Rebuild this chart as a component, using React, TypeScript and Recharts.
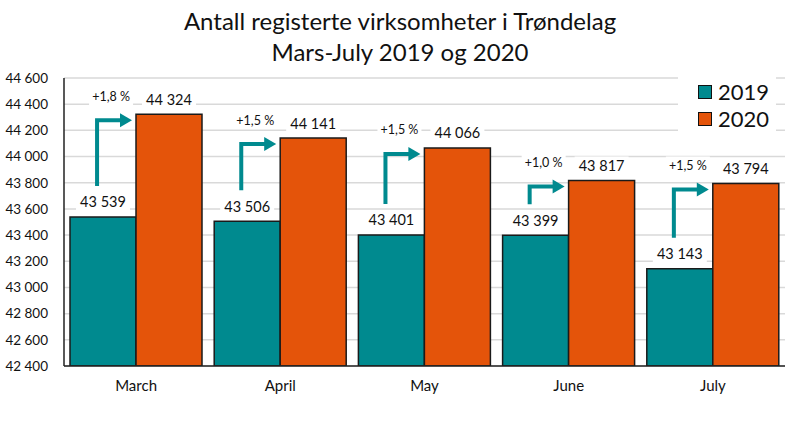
import React from 'react'
import { BarChart, Bar, XAxis, YAxis, CartesianGrid, LabelList } from 'recharts'

const months = ['March', 'April', 'May', 'June', 'July']
const values2019 = [43539, 43506, 43401, 43399, 43143]
const values2020 = [44324, 44141, 44066, 43817, 43794]
const changeLabels = ['+1,8 %', '+1,5 %', '+1,5 %', '+1,0 %', '+1,5 %']
const yTicks = [42400, 42600, 42800, 43000, 43200, 43400, 43600, 43800, 44000, 44200, 44400, 44600]

const Y_MIN = 42400
const Y_MAX = 44600
const TEAL = '#008A8F'
const ORANGE = '#E4540A'
const FONT = 'Lato, "Open Sans", sans-serif'

const data = months.map((m, i) => ({ month: m, y2019: values2019[i], y2020: values2020[i] }))

const fmt = (n: number) => String(n).replace(/\B(?=(\d{3})+(?!\d))/g, ' ')

function box(props: any) {
  const vb = props.viewBox || {}
  return {
    x: Number(props.x ?? vb.x),
    y: Number(props.y ?? vb.y),
    width: Number(props.width ?? vb.width),
    height: Number(props.height ?? vb.height),
  }
}

function ValueLabel(props: any) {
  const { x, y, width } = box(props)
  const cx = x + width / 2
  const cy = y - 15
  return (
    <g>
      <rect x={cx - 27} y={cy - 9} width={54} height={18} fill="#fff" />
      <text x={cx} y={cy} textAnchor="middle" dominantBaseline="central" fontSize={14.5} fill="#111" fontFamily={FONT}>
        {fmt(Number(props.value))}
      </text>
    </g>
  )
}

// arrow from the 2019 label up and across to the 2020 bar, with the change above it
function ChangeArrow(props: any) {
  const { x, y, width, height } = box(props)
  const i = props.index
  const k = height / (values2019[i] - Y_MIN)
  const top20 = y + height - (values2020[i] - Y_MIN) * k
  const vx = x + width * 0.41
  const y0 = y - 31
  const y1 = top20 + 6
  const tip = x + width - 4
  return (
    <g>
      <polyline points={`${vx},${y0} ${vx},${y1} ${tip - 11},${y1}`} fill="none" stroke={TEAL} strokeWidth={4} />
      <polygon points={`${tip},${y1} ${tip - 12},${y1 - 7} ${tip - 12},${y1 + 7}`} fill={TEAL} />
      <rect x={vx - 8} y={y1 - 33} width={44} height={18} fill="#fff" />
      <text x={vx + 14} y={y1 - 24} textAnchor="middle" dominantBaseline="central" fontSize={12.5} fill="#111" fontFamily={FONT}>
        {changeLabels[i]}
      </text>
    </g>
  )
}

function LegendBox() {
  const items = [
    { name: '2019', color: TEAL },
    { name: '2020', color: ORANGE },
  ]
  return (
    <div style={{ position: 'absolute', left: 678, top: 76, width: 98, background: '#fff', padding: '2px 0 6px 0', fontFamily: FONT }}>
      {items.map(it => (
        <div key={it.name} style={{ display: 'flex', alignItems: 'center', height: 27, paddingLeft: 20 }}>
          <span style={{ width: 12, height: 12, background: it.color, border: '1px solid #111', marginRight: 6 }} />
          <span style={{ fontSize: 22, color: '#111' }}>{it.name}</span>
        </div>
      ))}
    </div>
  )
}

export default function App() {
  return (
    <div style={{ position: 'absolute', left: 0, top: 0, width: 800, height: 430, background: '#fff' }}>
      <div
        style={{
          position: 'absolute', left: 0, top: 5, width: 800, textAlign: 'center',
          fontFamily: FONT, fontSize: 24, lineHeight: '31px', color: '#111',
        }}
      >
        Antall registerte virksomheter i Trøndelag
        <br />
        Mars-July 2019 og 2020
      </div>
      <BarChart
        width={800}
        height={430}
        data={data}
        margin={{ top: 78, right: 15, bottom: 0, left: 0 }}
        barCategoryGap={6}
        barGap={0}
      >
        <CartesianGrid vertical={false} stroke="#d9d9d9" strokeWidth={1.5} />
        <XAxis
          dataKey="month"
          height={64}
          tickLine={false}
          tickSize={0}
          tickMargin={14}
          axisLine={{ stroke: '#222', strokeWidth: 1.5 }}
          tick={{ fill: '#111', fontSize: 15, fontFamily: FONT }}
        />
        <YAxis
          width={64}
          domain={[Y_MIN, Y_MAX]}
          ticks={yTicks}
          interval={0}
          allowDataOverflow
          tickLine={false}
          tickSize={0}
          tickMargin={16}
          axisLine={{ stroke: '#222', strokeWidth: 1.5 }}
          tickFormatter={(v: number) => fmt(v)}
          tick={{ fill: '#111', fontSize: 13.5, fontFamily: FONT }}
        />
        <Bar dataKey="y2019" name="2019" fill={TEAL} stroke="#1a1a1a" strokeWidth={1.5} isAnimationActive={false}>
          <LabelList dataKey="y2019" content={<ValueLabel />} />
          <LabelList dataKey="y2019" content={<ChangeArrow />} />
        </Bar>
        <Bar dataKey="y2020" name="2020" fill={ORANGE} stroke="#1a1a1a" strokeWidth={1.5} isAnimationActive={false}>
          <LabelList dataKey="y2020" content={<ValueLabel />} />
        </Bar>
      </BarChart>
      <LegendBox />
    </div>
  )
}
